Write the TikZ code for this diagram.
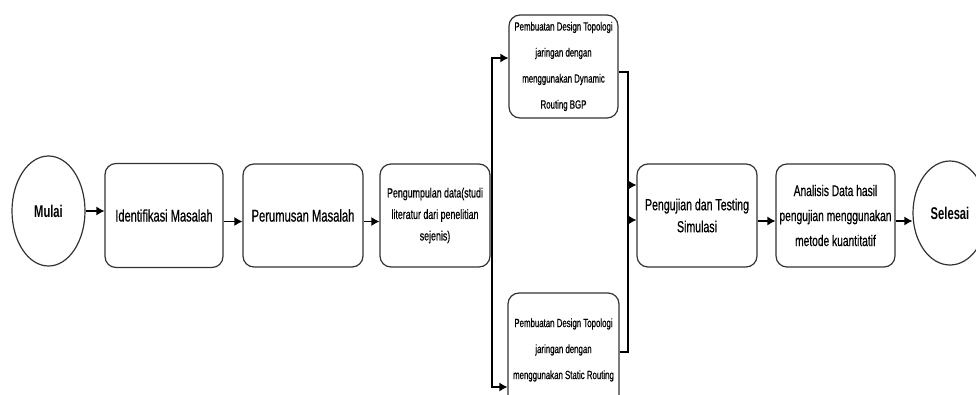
\documentclass[tikz,border=0pt]{standalone}
\usepackage{fontspec}
\setmainfont{Liberation Sans}[FakeStretch=0.66, UprightFeatures={FakeBold=0.6}]
\usetikzlibrary{shapes.geometric,arrows.meta}

\tikzset{
  stepbox/.style={draw=black!80, line width=1.2pt, rounded corners=11pt, align=center, inner sep=2pt},
  endbox/.style={draw=black!80, line width=1.2pt, ellipse, inner sep=0pt, font=\fontsize{17}{20}\selectfont\bfseries},
  flow/.style={-{Latex[length=8pt,width=9pt]}, line width=1.2pt}
}

\begin{document}
\begin{tikzpicture}[x=1pt,y=-1pt]
        \useasboundingbox (0,0) rectangle (976,394);
        \clip (0,0) rectangle (976,394);
        % start and end
        \node[endbox, minimum width=73pt, minimum height=110pt] (mulai) at (48.5,211) {Mulai};
        \node[endbox, minimum width=74pt, minimum height=104pt] (selesai) at (950,213) {Selesai};
        % the steps
        \node[stepbox, minimum width=118pt, minimum height=104pt, font=\fontsize{16.8}{20}\selectfont] (ident) at (164,215.5) {Identifikasi Masalah};
        \node[stepbox, minimum width=120pt, minimum height=103pt, font=\fontsize{17}{20}\selectfont] (perum) at (303,215.5) {Perumusan Masalah};
        \node[stepbox, minimum width=110pt, minimum height=103pt, font=\fontsize{13.4}{21.5}\selectfont] (kumpul) at (435,215.5) {Pengumpulan data(studi\\literatur dari penelitian\\sejenis)};
        \node[stepbox, minimum width=109pt, minimum height=103pt, font=\fontsize{11.9}{26}\selectfont] (dyn) at (563.5,66.5) {Pembuatan Design Topologi\\jaringan dengan\\menggunakan Dynamic\\Routing BGP};
        \node[stepbox, minimum width=111pt, minimum height=114pt, font=\fontsize{11.9}{26}\selectfont] (stat) at (563.5,350) {Pembuatan Design Topologi\\jaringan dengan\\menggunakan Static Routing};
        \node[stepbox, minimum width=120pt, minimum height=103pt, font=\fontsize{16}{22}\selectfont] (uji) at (697,215.5) {Pengujian dan Testing\\Simulasi};
        \node[stepbox, minimum width=119pt, minimum height=103pt, font=\fontsize{15.5}{25}\selectfont] (anal) at (835.5,215.5) {Analisis Data hasil\\pengujian menggunakan\\metode kuantitatif};
        % the branch and the merge
        \coordinate (split) at (492,215.5);
        \coordinate (merge) at (628,215.5);
        % draw the arrows
        \draw[flow] (mulai.east) -- (mulai.east -| ident.west);
        \draw[flow] ([yshift=-6pt]ident.east) -- ([yshift=-6pt]perum.west);
        \draw[flow] ([yshift=-6pt]perum.east) -- ([yshift=-6pt]kumpul.west);
        \draw[flow] (kumpul.east) -- (split) |- ([yshift=8.5pt]dyn.west);
        \draw[flow] (split) |- ([yshift=-37pt]stat.west);
        \draw[flow] ([yshift=-5.5pt]dyn.east) -| (merge) |- ([yshift=-4.5pt]uji.west);
        \draw[flow] ([yshift=-2pt]stat.east) -| (merge) |- ([yshift=30.5pt]uji.west);
        \draw[flow] ([yshift=-5.5pt]uji.east) -- ([yshift=-5.5pt]anal.west);
        \draw[flow] ([yshift=-5.5pt]anal.east) -- ([yshift=-5.5pt]anal.east -| selesai.west);
    \end{tikzpicture}
\end{document}
